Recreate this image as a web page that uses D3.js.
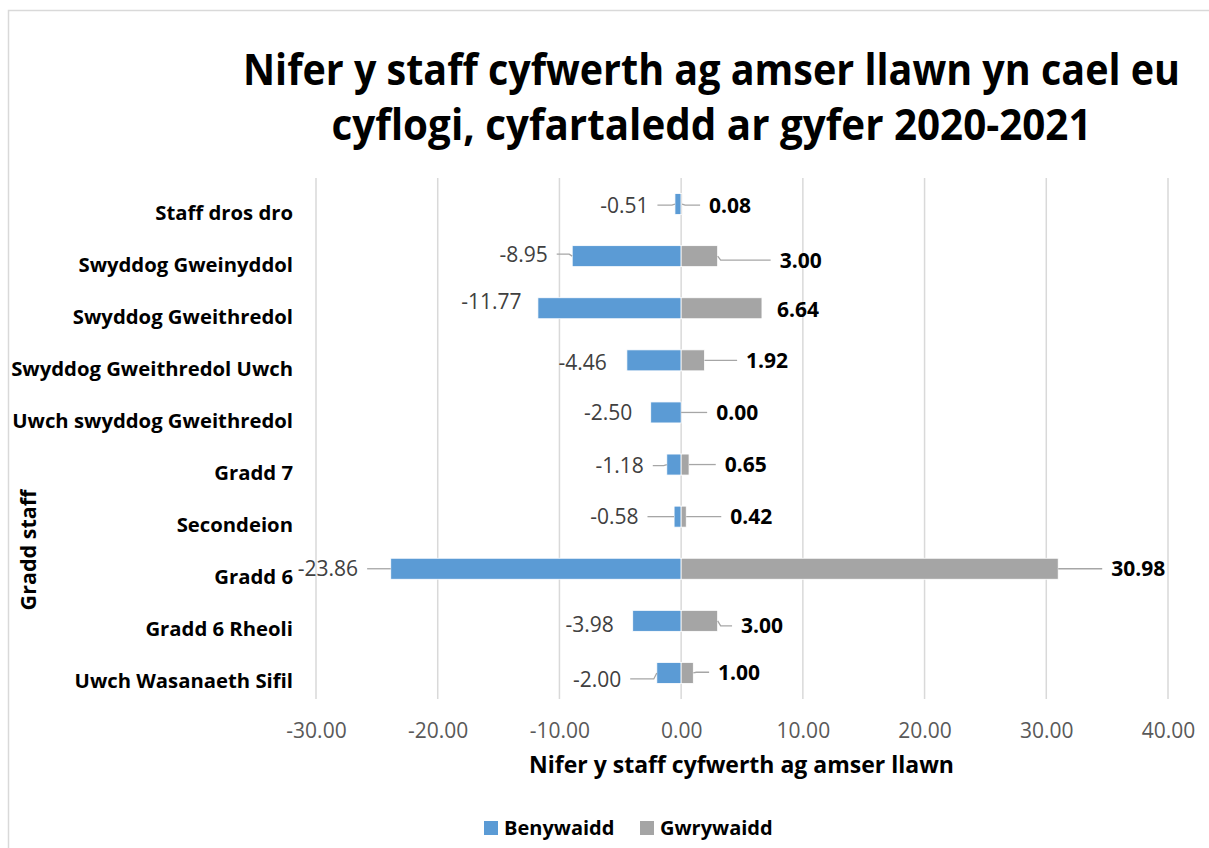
<!DOCTYPE html>
<html><head><meta charset="utf-8">
<script src="https://cdn.jsdelivr.net/npm/d3@7"></script>
<style>
html,body{margin:0;padding:0;background:#fff;}
svg text{font-family:"Open Sans",sans-serif;}
</style></head>
<body><svg id="c" width="1209" height="848"></svg>
<script>
const categories = ["Staff dros dro","Swyddog Gweinyddol","Swyddog Gweithredol","Swyddog Gweithredol Uwch","Uwch swyddog Gweithredol","Gradd 7","Secondeion","Gradd 6","Gradd 6 Rheoli","Uwch Wasanaeth Sifil"];
const female = [-0.51,-8.95,-11.77,-4.46,-2.50,-1.18,-0.58,-23.86,-3.98,-2.00];
const male = [0.08,3.00,6.64,1.92,0.00,0.65,0.42,30.98,3.00,1.00];
const tickValues = [-30,-20,-10,0,10,20,30,40];
const seriesNames = ["Benywaidd","Gwrywaidd"];
const titleLines = ["Nifer y staff cyfwerth ag amser llawn yn cael eu","cyflogi, cyfartaledd ar gyfer 2020-2021"];
const xTitle = "Nifer y staff cyfwerth ag amser llawn";
const yTitle = "Gradd staff";

// label placement nudges (layout, px): gap from bar end to label edge, vertical shift
const femaleGap = [26.5,24.5,16.4,20,18.5,23,35.6,32.6,19,35.6];
const femaleDy  = [1,-2,-7,2,0,1,0,0,4,6];
const maleGap   = [27,62,15,41.6,35,35.7,44,53,23.4,24.8];
const maleDy    = [1,4,1.5,0,0,0,0,0,5,-0.7];

const fmt = d3.formatLocale({decimal:".",thousands:",",grouping:[3],currency:["",""],minus:"-"}).format(".2f");

const svg = d3.select("#c");
const colF = "#5B9BD5", colM = "#A5A5A5", gridCol = "#D9D9D9";

// chart border
svg.append("rect").attr("x",8.5).attr("y",10.5).attr("width",1230).attr("height",900)
  .attr("fill","none").attr("stroke","#D9D9D9").attr("stroke-width",1.5);

const x = d3.scaleLinear().domain([-30,40]).range([316,1168]);
const y = d3.scaleBand().domain(categories).range([178,699]).paddingInner(0.597).paddingOuter(0.2985);

// gridlines
svg.append("g").selectAll("line").data(tickValues).join("line")
  .attr("x1",d=>x(d)).attr("x2",d=>x(d)).attr("y1",178).attr("y2",699)
  .attr("stroke",gridCol).attr("stroke-width",1.5);

// bars
const rows = categories.map((c,i)=>({c,i,f:female[i],m:male[i]}));
svg.append("g").selectAll("rect").data(rows).join("rect")
  .attr("x",d=>x(d.f)).attr("y",d=>y(d.c)).attr("width",d=>x(0)-x(d.f)).attr("height",y.bandwidth())
  .attr("fill",colF).attr("stroke","#fff").attr("stroke-width",0.8);
svg.append("g").selectAll("rect").data(rows).join("rect")
  .attr("x",d=>x(0)).attr("y",d=>y(d.c)).attr("width",d=>x(d.m)-x(0)).attr("height",y.bandwidth())
  .attr("fill",colM).attr("stroke","#fff").attr("stroke-width",0.8);

// data labels + leader lines
const lab = svg.append("g");
rows.forEach(d=>{
  const yc = y(d.c)+y.bandwidth()/2;
  {
    const xb = x(d.f), gap = femaleGap[d.i], ly = yc + femaleDy[d.i], tx = xb - gap;
    if (gap > 21) {
      lab.append("polyline").attr("points",[[xb,yc],[xb-3,ly],[tx+9,ly]].map(p=>p.join(",")).join(" "))
        .attr("fill","none").attr("stroke","#A6A6A6").attr("stroke-width",1.3);
    }
    lab.append("text").attr("x",tx).attr("y",ly).attr("dy","0.36em").attr("text-anchor","end")
      .attr("font-size",21).attr("fill","#404040").text(fmt(d.f));
  }
  {
    const xb = x(d.m), gap = maleGap[d.i], ly = yc + maleDy[d.i], tx = xb + gap;
    if (gap > 21) {
      lab.append("polyline").attr("points",[[xb,yc],[xb+3,ly],[tx-9,ly]].map(p=>p.join(",")).join(" "))
        .attr("fill","none").attr("stroke","#A6A6A6").attr("stroke-width",1.3);
    }
    lab.append("text").attr("x",tx).attr("y",ly).attr("dy","0.36em").attr("text-anchor","start")
      .attr("font-size",21).attr("font-weight","bold").attr("fill","#000").text(fmt(d.m));
  }
});

// x axis
const xa = svg.append("g").attr("transform","translate(0,699)")
  .call(d3.axisBottom(x).tickValues(tickValues).tickSize(0).tickPadding(23.6).tickFormat(fmt));
xa.select(".domain").remove();
xa.selectAll("text").attr("font-size",21).attr("fill","#595959").style("font-family","Open Sans");

// y axis (category labels)
const ya = svg.append("g").attr("transform","translate(316,0)")
  .call(d3.axisLeft(y).tickSize(0).tickPadding(23));
ya.select(".domain").remove();
ya.selectAll("text").attr("font-size",20.3).attr("font-weight","bold").attr("fill","#000")
  .attr("y",9).style("font-family","Open Sans");

// title
svg.append("text").attr("x",711.5).attr("y",85).attr("text-anchor","middle")
  .attr("font-size",43).attr("font-weight","bold").attr("fill","#000")
  .attr("textLength",937).attr("lengthAdjust","spacingAndGlyphs").text(titleLines[0]);
svg.append("text").attr("x",711.5).attr("y",140).attr("text-anchor","middle")
  .attr("font-size",43).attr("font-weight","bold").attr("fill","#000")
  .attr("textLength",760).attr("lengthAdjust","spacingAndGlyphs").text(titleLines[1]);

// axis titles
svg.append("text").attr("x",741.5).attr("y",773).attr("text-anchor","middle")
  .attr("font-size",23).attr("font-weight","bold").attr("fill","#000").text(xTitle);
svg.append("text").attr("transform","translate(36,550) rotate(-90)").attr("text-anchor","middle")
  .attr("font-size",21.5).attr("font-weight","bold").attr("fill","#000").text(yTitle);

// legend
const leg = svg.append("g");
const legX = [484,640];
seriesNames.forEach((n,i)=>{
  leg.append("rect").attr("x",legX[i]).attr("y",821).attr("width",14).attr("height",14)
    .attr("fill",i===0?colF:colM);
  leg.append("text").attr("x",legX[i]+20).attr("y",828).attr("dy","0.36em")
    .attr("font-size",20).attr("font-weight","bold").attr("fill","#000").text(n);
});
</script></body></html>
